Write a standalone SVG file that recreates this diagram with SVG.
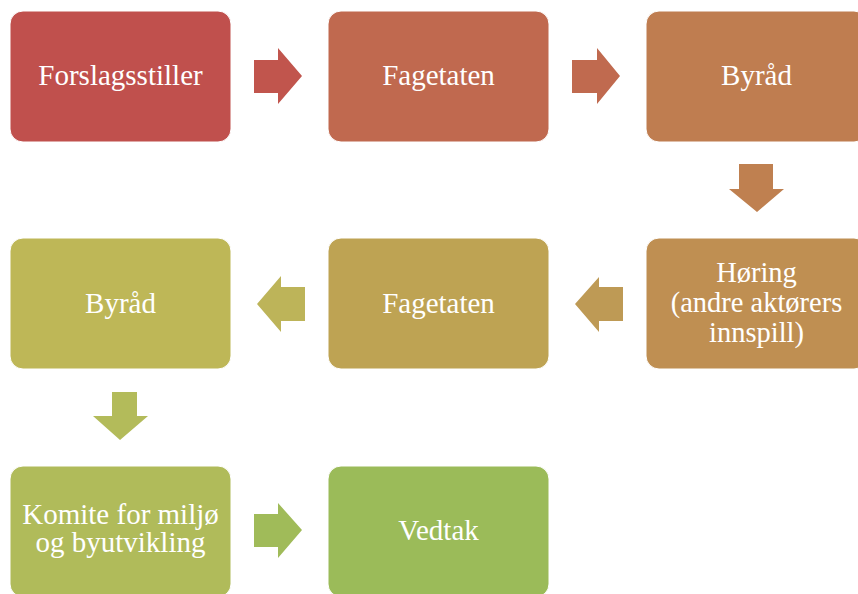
<svg xmlns="http://www.w3.org/2000/svg" width="858" height="594" viewBox="0 0 858 594">
<style>
.box{stroke:#ffffff;stroke-width:1}
.lbl{font-family:"Liberation Serif","Times New Roman",serif;font-size:29px;fill:#ffffff;text-anchor:middle}
</style>
<rect width="858" height="594" fill="#ffffff"/>
<g id="connectors">
<polygon points="254,60 278,60 278,48 302,76 278,104 278,93 254,93" fill="#C1554D"/>
<polygon points="572,60 597,60 597,48 620,76 597,104 597,93 572,93" fill="#C06A4F"/>
<polygon points="739,164 773,164 773,189 784,189 757,212 729,189 739,189" fill="#BF8050"/>
<polygon points="623,287 599,287 599,277 575,304 599,332 599,321 623,321" fill="#BE9A55"/>
<polygon points="305,287 281,287 281,276 257,304 281,332 281,321 305,321" fill="#BDB459"/>
<polygon points="112,392 137,392 137,416 148,416 120,440 93,416 112,416" fill="#B3BB5A"/>
<polygon points="254,514 278,514 278,503 302,530 278,558 278,547 254,547" fill="#A0BB59"/>
</g>
<g id="n1"><rect class="box" x="10" y="11" width="221" height="131" rx="13" fill="#C0504D"/><text class="lbl" x="120.5" y="85">Forslagsstiller</text></g>
<g id="n2"><rect class="box" x="328" y="11" width="221" height="131" rx="13" fill="#C0694F"/><text class="lbl" x="438.5" y="85">Fagetaten</text></g>
<g id="n3"><rect class="box" x="646" y="11" width="221" height="131" rx="13" fill="#BF7D50"/><text class="lbl" x="756.5" y="85">Byråd</text></g>
<g id="n4"><rect class="box" x="646" y="238" width="221" height="131" rx="13" fill="#BF8F52"/><text class="lbl" x="756.5" y="282" style="font-size:28.5px">Høring</text><text class="lbl" x="756.5" y="312" style="font-size:28.5px">(andre aktørers</text><text class="lbl" x="756.5" y="342" style="font-size:28.5px">innspill)</text></g>
<g id="n5"><rect class="box" x="328" y="238" width="221" height="131" rx="13" fill="#BEA353"/><text class="lbl" x="438.5" y="313">Fagetaten</text></g>
<g id="n6"><rect class="box" x="10" y="238" width="221" height="131" rx="13" fill="#BEB757"/><text class="lbl" x="120.5" y="313">Byråd</text></g>
<g id="n7"><rect class="box" x="10" y="466" width="221" height="131" rx="13" fill="#B0BB5A"/><text class="lbl" x="120.5" y="524">Komite for miljø</text><text class="lbl" x="120.5" y="552">og byutvikling</text></g>
<g id="n8"><rect class="box" x="328" y="466" width="221" height="131" rx="13" fill="#9BBB59"/><text class="lbl" x="438.5" y="540">Vedtak</text></g>
</svg>
